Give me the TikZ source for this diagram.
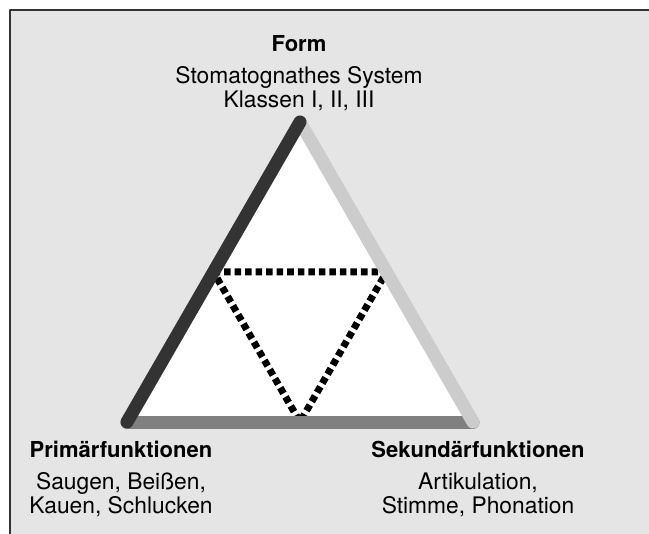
\documentclass[tikz,border=0pt]{standalone}
\usepackage{fontspec}
\setmainfont{TeX Gyre Heros}
\usetikzlibrary{calc}

\definecolor{bggray}{HTML}{E5E5E5}
\definecolor{framegray}{HTML}{333333}
\definecolor{darkside}{HTML}{333333}
\definecolor{midside}{HTML}{808080}
\definecolor{lightside}{HTML}{CCCCCC}

\begin{document}
\begin{tikzpicture}[
            x = 0.75pt, % one unit is one pixel of the sketch
            y = -0.75pt, % y grows downwards
            line join = round,
            font = \fontsize{17.1}{18}\selectfont
        ]

        \tikzstyle{heading}=[
            anchor = base,
            font = \fontsize{16.5}{18}\selectfont\bfseries
        ]
        \tikzstyle{itemtext}=[
            anchor = base, % base of the last line
            align = center
        ]
        \tikzstyle{side}=[
            line width = 9.75pt,
            line cap = round
        ]
        \tikzstyle{inner}=[
            line width = 5.25pt,
            dash pattern = on 4.9pt off 3pt
        ]

        % panel
        \clip (0,0) rectangle (649,534);
        \path[fill = bggray, draw = framegray, line width = 1.5pt] (10,10) rectangle (680,560);

        % corners of the triangle
        \coordinate (top) at (300,122);
        \coordinate (left) at (127,422);
        \coordinate (right) at (473,422);
        \coordinate (ml) at ($(left)!0.5!(top)$);
        \coordinate (mr) at ($(right)!0.5!(top)$);
        \coordinate (mb) at ($(left)!0.5!(right)$);

        \fill[white] (top) -- (left) -- (right) -- cycle;
        \draw[inner] (ml) -- (mr) -- (mb) -- cycle;

        \draw[side, midside] (left) -- (right);
        \draw[side, lightside] (right) -- (top);
        \draw[side, darkside] (left) -- (top);

        % labels
        \node[heading] (form) at (299,52) {Form};
        \node[itemtext] (formtext) at (299,108) {Stomatognathes System\\Klassen I, II, III};

        \node[heading] (prim) at (121,457) {Primärfunktionen};
        \node[itemtext] (primtext) at (121,513) {Saugen, Beißen,\\Kauen, Schlucken};

        \node[heading] (sek) at (478,457) {Sekundärfunktionen};
        \node[itemtext] (sektext) at (478,513) {Artikulation,\\Stimme, Phonation};

    \end{tikzpicture}
\end{document}
